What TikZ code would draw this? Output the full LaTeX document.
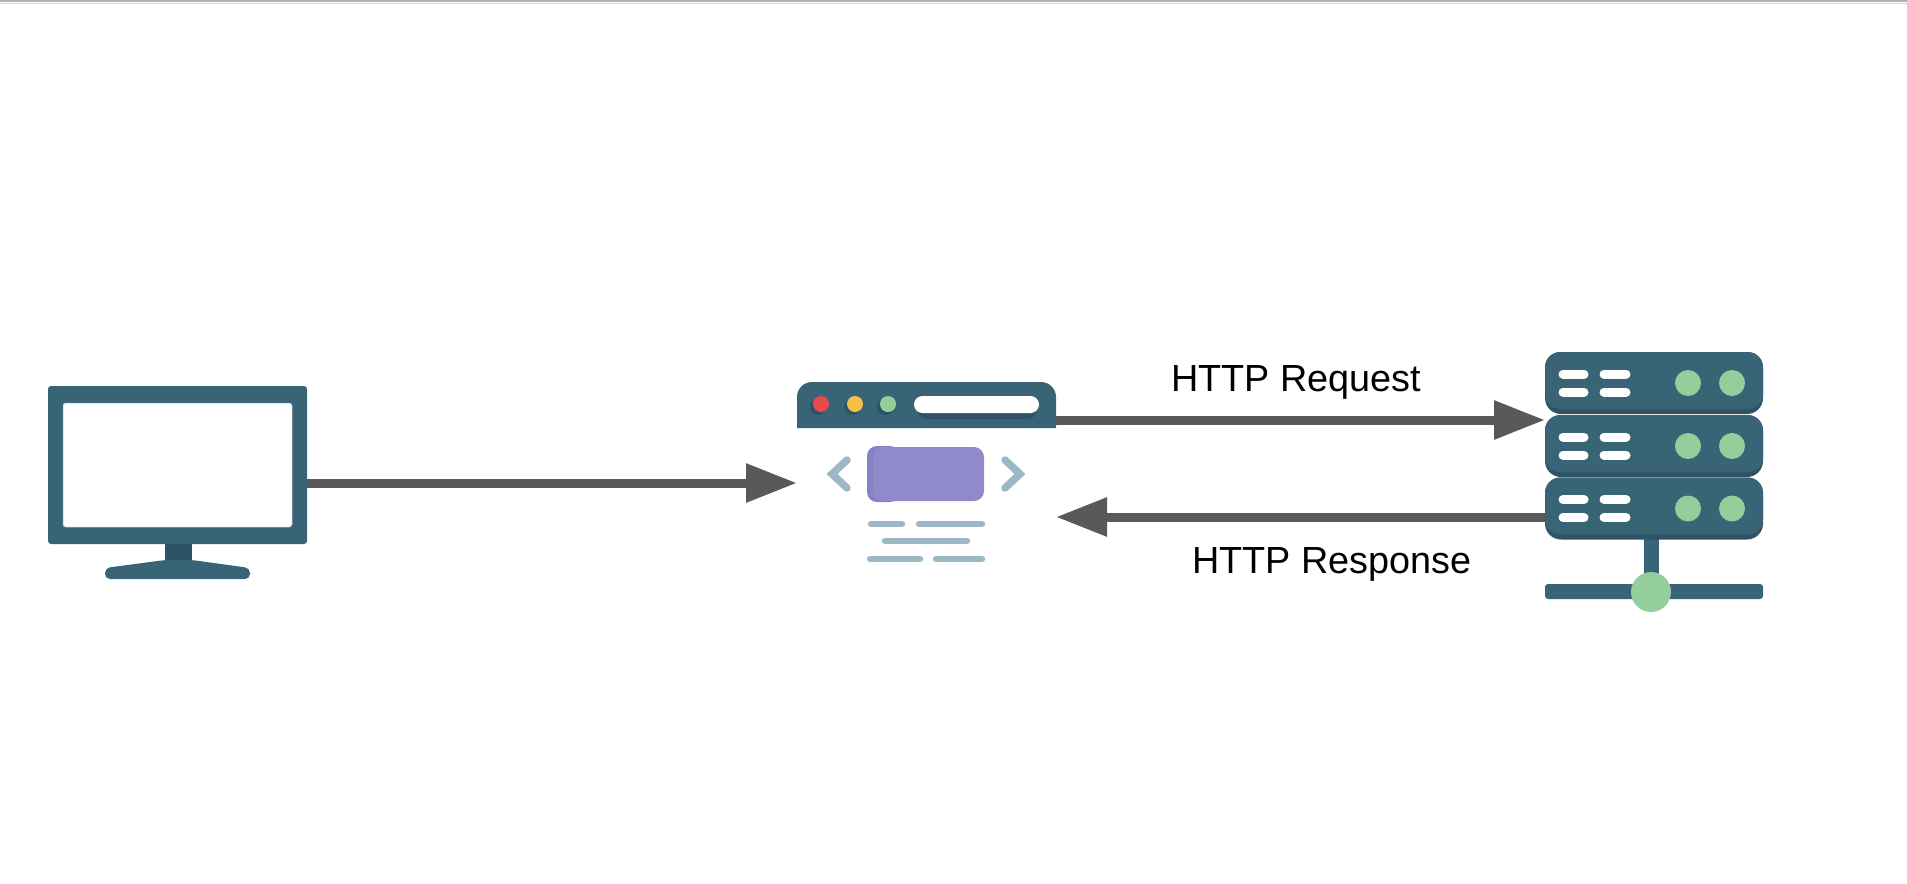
\documentclass[tikz,border=0pt]{standalone}
\usepackage{fontspec}
\setmainfont{Liberation Sans}
\usepackage{xcolor}
\usetikzlibrary{arrows.meta}
\definecolor{panelteal}{HTML}{386476}
\definecolor{paneldark}{HTML}{2E5364}
\definecolor{flowgrey}{HTML}{595959}
\definecolor{ledgreen}{HTML}{93CE9B}
\definecolor{dotred}{HTML}{E8484C}
\definecolor{dotyellow}{HTML}{F5BF4A}
\definecolor{pagepurple}{HTML}{918ACA}
\definecolor{pagedark}{HTML}{8780C6}
\definecolor{pageline}{HTML}{9DB8C5}
\def\pxu{0.02cm}
\tikzset{
    box/.style={inner sep=0pt,outer sep=0pt,minimum width=#1*\pxu},
    flow/.style={draw=flowgrey,fill=flowgrey,line width=0.18cm,-{Triangle[length=1.02cm,width=0.74cm]}},
    pagebar/.style={pageline,line width=0.13cm,line cap=round},
    chevron/.style={pageline,line width=0.15cm,line cap=round},
    slotbar/.style={white,line width=0.18cm,line cap=round},
    lbl/.style={anchor=base,inner sep=0pt,font=\fontsize{21.5}{26}\selectfont}
}
\begin{document}
\begin{tikzpicture}[x=0.02cm,y=-0.02cm]
    \useasboundingbox (0,0) rectangle (1907,883);
    \fill[black!30] (0,0) rectangle (1907,2.2);
    \fill[black!18] (0,3) rectangle (1907,3.8);

    % monitor
    \node[box=259,minimum height=158*\pxu,fill=panelteal,rounded corners=0.06cm] (pc) at (177.5,465) {};
    \node[box=229,minimum height=124*\pxu,fill=white,draw=pageline,line width=0.01cm,rounded corners=0.05cm] (screen) at (177.5,465) {};
    \fill[paneldark] (165,544) rectangle (192,560);
    \fill[panelteal,rounded corners=0.1cm] (105,579) -- (105,568) -- (165,560) -- (192,560) -- (250,568) -- (250,579) -- cycle;

    % browser
    \node[box=259,minimum height=202*\pxu] (browser) at (926.5,483) {};
    \fill[panelteal,rounded corners=0.3cm] (797,428) -- (797,382) -- (1056,382) [sharp corners] -- (1056,428) -- cycle;
    \fill[paneldark,rounded corners=0.16cm] (918,401) rectangle (1036,419);
    \fill[white,rounded corners=0.17cm] (914,396) rectangle (1039,413);
    \foreach \x/\c in {821/dotred,855/dotyellow,888/ledgreen} {
        \fill[paneldark] (\x-3,407) circle (8);
        \fill[\c] (\x,404) circle (8);
    }
    \draw[chevron] (847,460) -- (832,474) -- (847,488);
    \draw[chevron] (1005,460) -- (1020,474) -- (1005,488);
    \fill[pagedark,rounded corners=0.2cm] (867,446) rectangle (900,502);
    \fill[pagepurple,rounded corners=0.2cm] (873,447) rectangle (984,501);
    \draw[pagebar] (871,524) -- (902,524);
    \draw[pagebar] (919,524) -- (982,524);
    \draw[pagebar] (885,541) -- (967,541);
    \draw[pagebar] (870,559) -- (920,559);
    \draw[pagebar] (936,559) -- (982,559);

    % server
    \node[box=218,minimum height=186*\pxu] (rack) at (1654,446) {};
    \fill[panelteal] (1644,535) rectangle (1659,580);
    \fill[panelteal,rounded corners=0.06cm] (1545,584) rectangle (1763,599);
    \fill[ledgreen] (1651,592) circle (20);
    \foreach \y/\n in {383/1,446/2,508.5/3} {
        \node[box=218,minimum height=62*\pxu,fill=paneldark,rounded corners=0.32cm] (unit\n) at (1654,\y) {};
        \fill[panelteal,rounded corners=0.3cm] (1545,\y-31) rectangle (1763,\y+26);
        \foreach \s in {-9,9} {
            \draw[slotbar] (1563,\y+\s) -- (1584,\y+\s);
            \draw[slotbar] (1604,\y+\s) -- (1626,\y+\s);
        }
        \fill[ledgreen] (1688,\y) circle (13);
        \fill[ledgreen] (1732,\y) circle (13);
    }

    % arrows
    \coordinate (reqline) at (1300,420);
    \coordinate (resline) at (1300,517);
    \draw[flow] (pc.east |- browser.west) -- (browser.west);
    \draw[flow] (browser.east |- reqline) -- (rack.west |- reqline);
    \draw[flow] (rack.west |- resline) -- (browser.east |- resline);
    \node[lbl] (req) at (1296,391) {HTTP Request};
    \node[lbl] (res) at (1332,573) {HTTP Response};
\end{tikzpicture}
\end{document}
